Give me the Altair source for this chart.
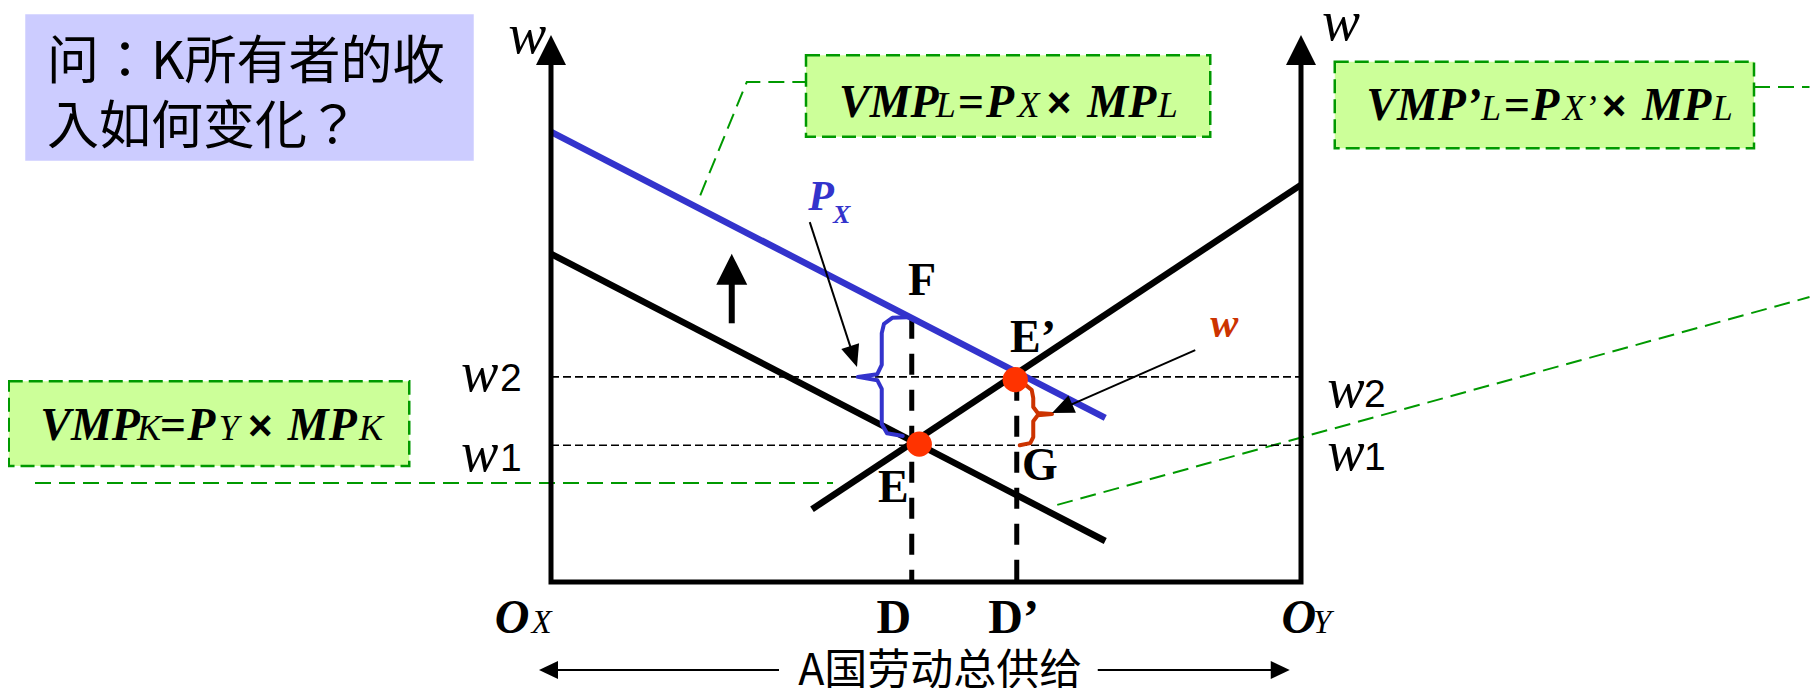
import math
import altair as alt
import pandas as pd

# ---------------------------------------------------------------
# Coordinate frame: L = labour of country A (Ox = 0 ... Oy = 100),
# W = wage (0 at the bottom axis ... 100 at the tip of the w axis)
# ---------------------------------------------------------------
PX_L = 7.5            # pixels per unit of L
PX_W = 5.47           # pixels per unit of W
CHART_W, CHART_H = 1802, 680
L_MIN = -72.4
W_MAX = 104.94
L_DOMAIN = [L_MIN, L_MIN + CHART_W / PX_L]
W_DOMAIN = [W_MAX - CHART_H / PX_W, W_MAX]

# ---- axes -----------------------------------------------------
axes_L = [0, 0, 100, 100]
axes_W = [95.1, 0, 0, 95.1]
axis_tips_L = [0, 100]
axis_tips_W = [100.0, 100.0]

# ---- curves ---------------------------------------------------
vmpL_L = [0, 73.9]
vmpL_W = [60.0, 7.5]
vmpL2_L = [0, 73.9]          # VMP'_L (after P_X rises)
vmpL2_W = [82.3, 30.0]
vmpK_L = [34.8, 100]
vmpK_W = [13.3, 72.6]

# ---- wages / employment --------------------------------------
w_levels = [25.0, 37.5]      # w1, w2
D_L = [48.1, 62.1]           # D, D'
D_top_W = [48.3, 37.0]
eq_L = [49.1, 61.9]          # E, E'
eq_W = [25.2, 37.0]

# ---- braces ---------------------------------------------------
brace_blue_L = [47.5, 45.5, 44.4, 44.1, 44.1, 43.5, 40.9, 43.5, 44.1, 44.1, 44.8, 46.9]
brace_blue_W = [48.4, 48.3, 47.2, 45.5, 39.7, 38.0, 37.5, 36.9, 35.3, 28.9, 27.2, 26.7]
brace_red_L = [63.3, 64.1, 64.3, 64.3, 64.9, 66.8, 64.9, 64.3, 64.3, 63.9, 62.5]
brace_red_W = [36.0, 35.1, 33.6, 32.0, 30.9, 30.7, 30.5, 29.4, 26.5, 25.4, 25.0]

# ---- arrows (tail, tip) ---------------------------------------
up_arrow = ((24.1, 47.3), (24.1, 60.0))
px_arrow = ((34.5, 65.8), (40.8, 39.3))
w_arrow = ((85.9, 42.4), (66.8, 30.9))
bottom_left = ((30.4, -16.1), (-1.6, -16.1))
bottom_right = ((72.9, -16.1), (98.5, -16.1))

# ---- annotation boxes (L1, L2, W1, W2) -----------------------
box_green = {
    "L1": [34.0, 104.5, -72.3],
    "L2": [87.9, 160.4, -18.9],
    "W1": [96.3, 95.1, 36.7],
    "W2": [81.4, 79.3, 21.2],
}
box_question = {"L1": [-70.1], "L2": [-10.3], "W1": [103.8], "W2": [77.0]}

# ---- green leader lines --------------------------------------
leaders = [
    ([19.9, 26.1, 34.0], [70.7, 91.4, 91.4]),
    ([160.4, 167.8], [90.5, 90.5]),
    ([67.5, 167.8], [14.1, 52.1]),
    ([-68.8, 37.6], [18.1, 18.1]),
]

# ---- texts: (text, L, W, size, colour, style, align) ----------
BLK, BLUE, RED = "#000000", "#3333cc", "#cc3300"
formula_L = [("VMP", 38.4, 46, "bi"), ("L", 51.3, 36, "i"), ("=", 54.2, 46, "bi"),
             ("P", 58.0, 46, "bi"), ("X", 62.2, 36, "i"), ("×", 66.1, 42, "sb"),
             ("MP", 71.5, 46, "bi"), ("L", 80.9, 36, "i")]
formula_L2 = [("VMP’", 108.7, 46, "bi"), ("L", 124.0, 36, "i"), ("=", 127.0, 46, "bi"),
              ("P", 130.7, 46, "bi"), ("X’", 134.9, 36, "i"), ("×", 140.1, 42, "sb"),
              ("MP", 145.5, 46, "bi"), ("L", 154.9, 36, "i")]
formula_K = [("VMP", -68.1, 46, "bi"), ("K", -55.2, 36, "i"), ("=", -52.2, 46, "bi"),
             ("P", -48.5, 46, "bi"), ("Y", -44.3, 36, "i"), ("×", -40.4, 42, "sb"),
             ("MP", -35.1, 46, "bi"), ("K", -25.6, 36, "i")]
formula_rows = [(formula_L, 85.0), (formula_L2, 84.5), (formula_K, 26.0)]

other_texts = [
    ("问：K所有者的收", -67.2, 92.0, 52, BLK, "cjk", "left"),
    ("入如何变化？", -67.2, 80.1, 52, BLK, "cjk", "left"),
    ("A国劳动总供给", 51.9, -18.9, 43, BLK, "cjk", "center"),
    ("w", -5.7, 96.7, 57, BLK, "i", "left"),
    ("w", 102.8, 99.1, 57, BLK, "i", "left"),
    ("w", -12.0, 34.9, 56, BLK, "i", "left"),
    ("2", -6.8, 34.9, 39, BLK, "s", "left"),
    ("w", -12.0, 20.3, 56, BLK, "i", "left"),
    ("1", -6.8, 20.3, 39, BLK, "s", "left"),
    ("w", 103.5, 32.0, 56, BLK, "i", "left"),
    ("2", 108.4, 32.0, 39, BLK, "s", "left"),
    ("w", 103.5, 20.5, 56, BLK, "i", "left"),
    ("1", 108.4, 20.5, 39, BLK, "s", "left"),
    ("O", -7.5, -9.4, 48, BLK, "bi", "left"),
    ("X", -2.6, -9.4, 33, BLK, "i", "left"),
    ("D", 43.4, -9.4, 48, BLK, "b", "left"),
    ("D’", 58.3, -9.4, 48, BLK, "b", "left"),
    ("O", 97.4, -9.4, 48, BLK, "bi", "left"),
    ("Y", 101.6, -9.4, 33, BLK, "i", "left"),
    ("F", 47.6, 52.5, 46, BLK, "b", "left"),
    ("E’", 61.2, 42.0, 46, BLK, "b", "left"),
    ("G", 62.8, 18.6, 46, BLK, "b", "left"),
    ("E", 43.6, 14.6, 46, BLK, "b", "left"),
    ("w", 87.9, 44.8, 42, RED, "bi", "left"),
    ("P", 34.3, 68.0, 42, BLUE, "bi", "left"),
    ("X", 37.6, 65.6, 26, BLUE, "bi", "left"),
]

# ---------------------------------------------------------------
xs = alt.Scale(domain=L_DOMAIN, nice=False, zero=False)
ys = alt.Scale(domain=W_DOMAIN, nice=False, zero=False)
X = lambda f="L": alt.X(f"{f}:Q", scale=xs, axis=None)
Y = lambda f="W": alt.Y(f"{f}:Q", scale=ys, axis=None)


def path_layer(segments, color, width, dash=None, cap="butt", join="miter"):
    rows = []
    for g, (Ls, Ws) in enumerate(segments):
        for i, (l, w) in enumerate(zip(Ls, Ws)):
            rows.append({"L": l, "W": w, "i": i, "g": g})
    kw = dict(color=color, strokeWidth=width, strokeCap=cap, strokeJoin=join)
    if dash:
        kw["strokeDash"] = dash
    return alt.Chart(pd.DataFrame(rows)).mark_line(**kw).encode(
        x=X(), y=Y(), order="i:Q", detail="g:N")


def head_rows(arrows, length):
    rows, shafts = [], []
    for tail, tip in arrows:
        dx = (tip[0] - tail[0]) * PX_L
        dy = -(tip[1] - tail[1]) * PX_W
        n = math.hypot(dx, dy)
        ux, uy = dx / n, dy / n
        ang = math.degrees(math.atan2(ux, -uy)) % 360
        cl = tip[0] - (length / 2) * ux / PX_L
        cw = tip[1] + (length / 2) * uy / PX_W
        rows.append({"L": cl, "W": cw, "a": ang})
        shafts.append(([tail[0], cl], [tail[1], cw]))
    return pd.DataFrame(rows), shafts


def head_layer(df, path, length, color="#000000"):
    return alt.Chart(df).mark_point(
        filled=True, shape=path, size=length * length, color=color,
        opacity=1, strokeWidth=0).encode(
        x=X(), y=Y(), angle=alt.Angle("a:Q", scale=None))


def box_layer(d, fill, stroke=None):
    kw = dict(fill=fill)
    if stroke:
        kw.update(stroke=stroke, strokeWidth=2.5, strokeDash=[14, 6])
    else:
        kw.update(strokeWidth=0)
    return alt.Chart(pd.DataFrame(d)).mark_rect(**kw).encode(
        x=X("L1"), x2="L2", y=Y("W1"), y2="W2")


STYLES = {
    "bi": dict(font="Liberation Serif", fontStyle="italic", fontWeight="bold"),
    "i": dict(font="Liberation Serif", fontStyle="italic", fontWeight="normal"),
    "b": dict(font="Liberation Serif", fontStyle="normal", fontWeight="bold"),
    "s": dict(font="Liberation Sans", fontStyle="normal", fontWeight="normal"),
    "sb": dict(font="Liberation Sans", fontStyle="normal", fontWeight="bold"),
    "cjk": dict(font="Noto Sans CJK JP", fontStyle="normal", fontWeight="normal"),
}

text_rows = []
for items, wline in formula_rows:
    for t, l, s, st in items:
        text_rows.append((t, l, wline, s, BLK, st, "left"))
text_rows += other_texts
tdf = pd.DataFrame(text_rows, columns=["t", "L", "W", "s", "c", "st", "al"])

text_layers = []
for (st, al), sub in tdf.groupby(["st", "al"]):
    text_layers.append(
        alt.Chart(sub).mark_text(align=al, baseline="alphabetic", **STYLES[st]).encode(
            x=X(), y=Y(), text="t:N",
            size=alt.Size("s:Q", scale=None),
            color=alt.Color("c:N", scale=None)))

# ---- assemble ---------------------------------------------------
layers = [
    box_layer(box_question, "#ccccff"),
    box_layer(box_green, "#ccff99", "#009900"),
    path_layer(leaders, "#009900", 2, dash=[16, 8]),
    path_layer([([0, 100], [w, w]) for w in w_levels], "#000000", 1.6, dash=[8, 4]),
    path_layer([([l, l], [top, 0]) for l, top in zip(D_L, D_top_W)], "#000000", 5, dash=[21, 15]),
    path_layer([(vmpL_L, vmpL_W), (vmpK_L, vmpK_W)], "#000000", 6.5),
    path_layer([(vmpL2_L, vmpL2_W)], "#3333cc", 6.5),
    path_layer([(axes_L, axes_W)], "#000000", 5),
    path_layer([(brace_blue_L, brace_blue_W)], "#3333cc", 4, cap="round", join="round"),
    path_layer([(brace_red_L, brace_red_W)], "#cc3300", 4, cap="round", join="round"),
    alt.Chart(pd.DataFrame({"L": eq_L, "W": eq_W})).mark_circle(
        size=640, color="#ff3300", opacity=1).encode(x=X(), y=Y()),
]

# axis arrowheads
ax_df = pd.DataFrame({"L": axis_tips_L, "W": [w - 15 / PX_W for w in axis_tips_W], "a": [0, 0]})
layers.append(head_layer(ax_df, "M0,-1L1,1L-1,1Z", 30))

# thick up arrow
up_df, up_sh = head_rows([up_arrow], 31)
layers.append(path_layer(up_sh, "#000000", 6))
layers.append(head_layer(up_df, "M0,-1L1,1L-1,1Z", 31))

# thin pointer arrows
th_df, th_sh = head_rows([px_arrow, w_arrow], 22)
layers.append(path_layer(th_sh, "#000000", 2))
layers.append(head_layer(th_df, "M0,-1L0.85,1L-0.85,1Z", 22))

# bottom double arrow
bt_df, bt_sh = head_rows([bottom_left, bottom_right], 19)
layers.append(path_layer(bt_sh, "#000000", 2))
layers.append(head_layer(bt_df, "M0,-1L0.95,1L-0.95,1Z", 19))

layers += text_layers

chart = alt.layer(*layers).properties(
    width=CHART_W, height=CHART_H, padding=0, autosize="none", background="white"
).configure_view(stroke=None)

chart.save("out.html", embed_options={"renderer": "svg", "actions": False})
